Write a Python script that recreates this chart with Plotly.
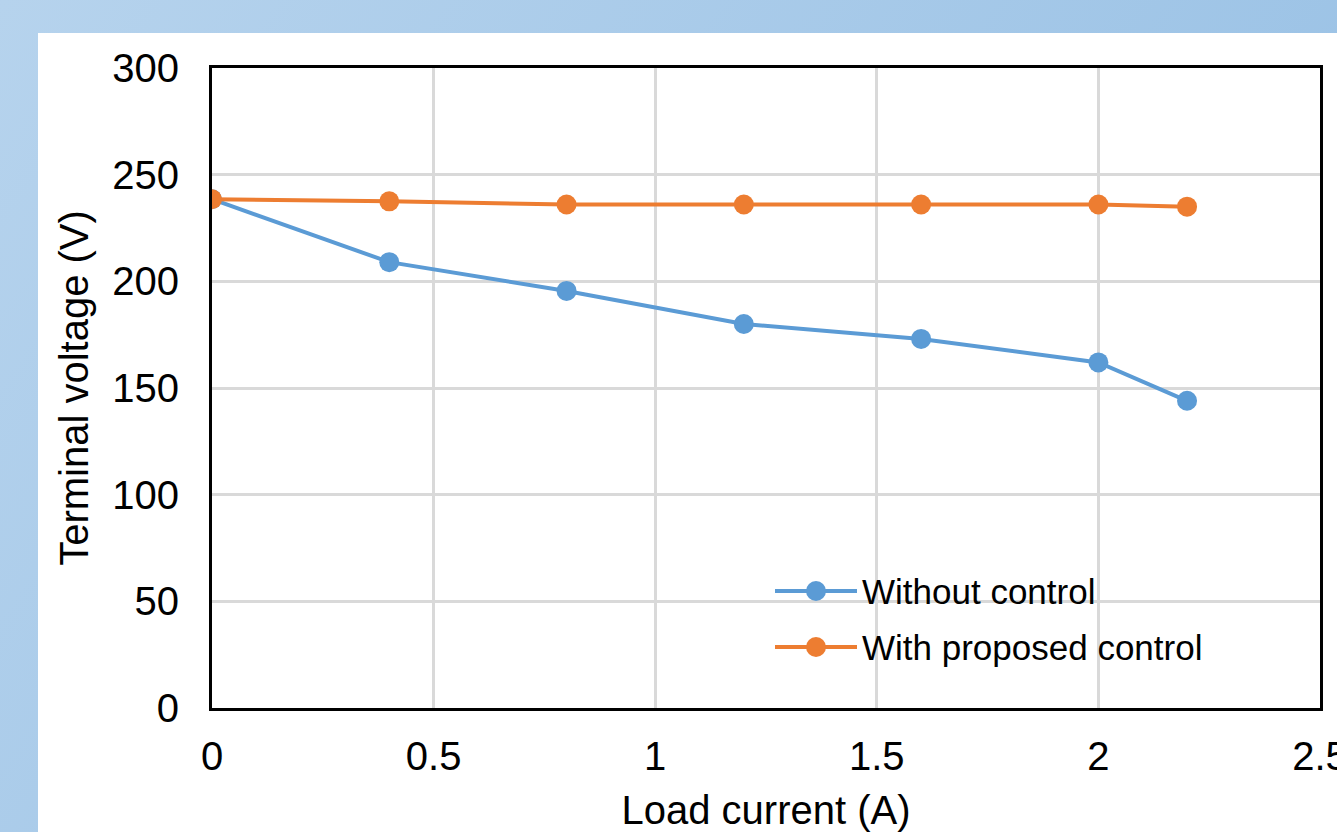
import base64
import plotly.graph_objects as go

# Load current (A) and terminal voltage (V) for both cases
current = [0, 0.4, 0.8, 1.2, 1.6, 2.0, 2.2]
v_without = [238.5, 209, 195.5, 180, 173, 162, 144]
v_with = [238.5, 237.5, 236, 236, 236, 236, 235]

series_names = ["Without control", "With proposed control"]
series_colors = ["#5B9BD5", "#ED7D31"]

x_ticks = [0, 0.5, 1, 1.5, 2, 2.5]
y_ticks = [0, 50, 100, 150, 200, 250, 300]

W, H = 1337, 832
L, R, T, B = 212, 17, 68, 124
PW, PH = W - L - R, H - T - B


def px_to_paper(px, py):
    return (px - L) / PW, (H - B - py) / PH


FONT = "Liberation Sans, Arial, sans-serif"

fig = go.Figure()
for name, ys, col in zip(series_names, [v_without, v_with], series_colors):
    fig.add_trace(go.Scatter(
        x=current, y=ys, name=name, mode="lines+markers",
        line=dict(color=col, width=4),
        marker=dict(color=col, size=20),
        showlegend=False,
    ))

# Soft blue gradient frame behind the white chart card
svg = (
    "<svg xmlns='http://www.w3.org/2000/svg' width='1337' height='832' preserveAspectRatio='none'>"
    "<defs><linearGradient id='g' x1='0' y1='0' x2='1' y2='0.45'>"
    "<stop offset='0' stop-color='#B6D3ED'/><stop offset='1' stop-color='#99C1E5'/>"
    "</linearGradient></defs><rect width='1337' height='832' fill='url(#g)'/></svg>"
)
src = "data:image/svg+xml;base64," + base64.b64encode(svg.encode()).decode()
ix0, iy0 = px_to_paper(0, 0)
fig.add_layout_image(dict(
    source=src, xref="paper", yref="paper", x=ix0, y=iy0,
    sizex=W / PW, sizey=H / PH, xanchor="left", yanchor="top",
    sizing="stretch", layer="below",
))

shapes = []
cx0, cy1 = px_to_paper(38, 33)
cx1, cy0 = px_to_paper(W + 20, H + 20)
shapes.append(dict(type="rect", xref="paper", yref="paper", x0=cx0, x1=cx1,
                   y0=cy0, y1=cy1, fillcolor="white", line=dict(width=0), layer="below"))

# Legend swatches inside the plot area
annotations = []
legend_rows = [591, 647]
for name, col, ry in zip(series_names, series_colors, legend_rows):
    lx0, ly = px_to_paper(775, ry)
    lx1, _ = px_to_paper(857, ry)
    mx, _ = px_to_paper(816, ry)
    shapes.append(dict(type="line", xref="paper", yref="paper", x0=lx0, x1=lx1,
                       y0=ly, y1=ly, line=dict(color=col, width=4)))
    shapes.append(dict(type="circle", xref="paper", yref="paper",
                       xsizemode="pixel", ysizemode="pixel", xanchor=mx, yanchor=ly,
                       x0=-10, x1=10, y0=-10, y1=10,
                       fillcolor=col, line=dict(width=0)))
    tx, _ = px_to_paper(860, ry)
    annotations.append(dict(xref="paper", yref="paper", x=tx, y=ly, text=name,
                            showarrow=False, xanchor="left", yanchor="middle",
                            font=dict(family=FONT, size=35, color="#000000")))

axis_common = dict(
    showline=True, linecolor="#000000", linewidth=3, mirror=True,
    showgrid=True, gridcolor="#D9D9D9", gridwidth=2.5,
    zeroline=False, ticks="", tickfont=dict(family=FONT, size=40, color="#000000"),
    title_font=dict(family=FONT, size=40, color="#000000"),
    ticklabeloverflow="allow", automargin=False,
)

fig.update_xaxes(range=[0, 2.5], tickvals=x_ticks, ticktext=[f"{v:g}" for v in x_ticks],
                 title_text="Load current (A)", title_standoff=20,
                 ticklabelstandoff=11, **axis_common)
fig.update_yaxes(range=[0, 300], tickvals=y_ticks, ticktext=[str(v) for v in y_ticks],
                 title_text="Terminal voltage (V)", title_standoff=12,
                 ticklabelstandoff=22, **axis_common)

fig.update_layout(
    width=W, height=H,
    margin=dict(l=L, r=R, t=T, b=B, autoexpand=False),
    paper_bgcolor="#A9CAE9", plot_bgcolor="white",
    shapes=shapes, annotations=annotations,
    font=dict(family=FONT, color="#000000"),
)

fig.write_html("out.html")
